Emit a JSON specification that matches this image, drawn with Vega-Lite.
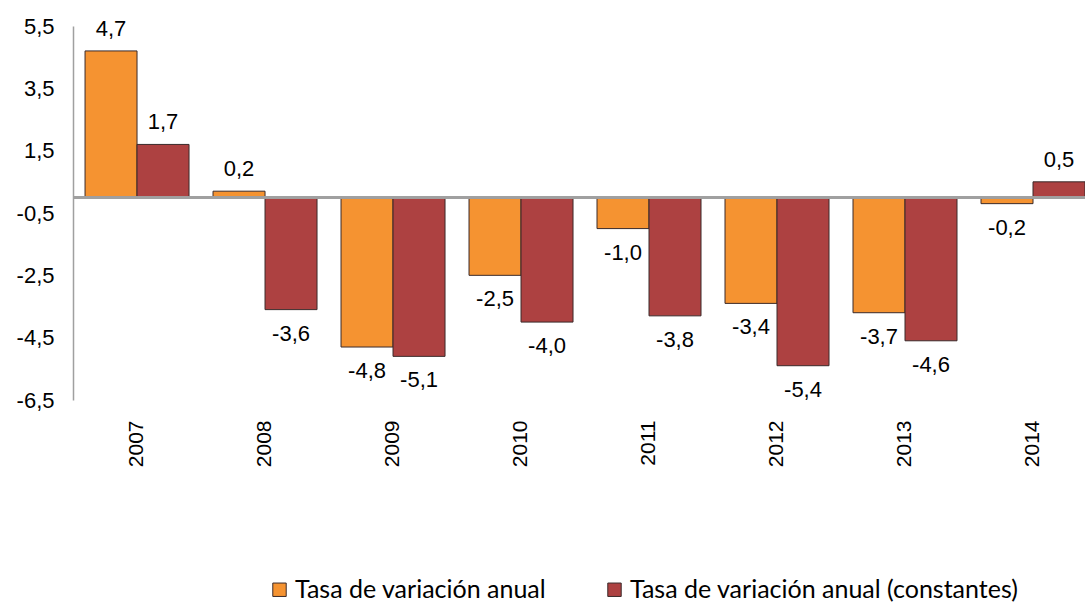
{
  "$schema": "https://vega.github.io/schema/vega-lite/v6.json",
  "autosize": "none",
  "width": 1012,
  "height": 374,
  "padding": {"left": 73, "top": 26, "right": 0, "bottom": 203},
  "background": "white",
  "config": {
    "locale": {"number": {"decimal": ",", "thousands": ".", "grouping": [3], "currency": ["", " €"], "minus": "-"}},
    "view": {"stroke": null},
    "font": "Liberation Sans"
  },
  "data": {
    "values": [
      {"year": "2007", "serie": "Tasa de variación anual", "value": 4.7},
      {"year": "2007", "serie": "Tasa de variación anual (constantes)", "value": 1.7},
      {"year": "2008", "serie": "Tasa de variación anual", "value": 0.2},
      {"year": "2008", "serie": "Tasa de variación anual (constantes)", "value": -3.6},
      {"year": "2009", "serie": "Tasa de variación anual", "value": -4.8},
      {"year": "2009", "serie": "Tasa de variación anual (constantes)", "value": -5.1},
      {"year": "2010", "serie": "Tasa de variación anual", "value": -2.5},
      {"year": "2010", "serie": "Tasa de variación anual (constantes)", "value": -4.0},
      {"year": "2011", "serie": "Tasa de variación anual", "value": -1.0},
      {"year": "2011", "serie": "Tasa de variación anual (constantes)", "value": -3.8},
      {"year": "2012", "serie": "Tasa de variación anual", "value": -3.4},
      {"year": "2012", "serie": "Tasa de variación anual (constantes)", "value": -5.4},
      {"year": "2013", "serie": "Tasa de variación anual", "value": -3.7},
      {"year": "2013", "serie": "Tasa de variación anual (constantes)", "value": -4.6},
      {"year": "2014", "serie": "Tasa de variación anual", "value": -0.2},
      {"year": "2014", "serie": "Tasa de variación anual (constantes)", "value": 0.5}
    ]
  },
  "encoding": {
    "x": {
      "field": "year", "type": "nominal",
      "scale": {"paddingInner": 0.1875, "paddingOuter": 0.047, "align": 1},
      "axis": {"title": null, "labelAngle": -90, "labelFontSize": 21, "labelColor": "#000", "labelPadding": 20, "domain": false, "ticks": false, "labelFont": "Liberation Sans"}
    },
    "xOffset": {"field": "serie", "type": "nominal", "sort": ["Tasa de variación anual", "Tasa de variación anual (constantes)"]},
    "y": {
      "field": "value", "type": "quantitative",
      "scale": {"domain": [-6.5, 5.5], "zero": false, "nice": false},
      "axis": {"title": null, "values": [5.5, 3.5, 1.5, -0.5, -2.5, -4.5, -6.5], "format": ".1f", "labelFontSize": 22, "labelColor": "#000", "labelPadding": 19, "ticks": false, "grid": false, "domainColor": "#a0a0a0", "domainWidth": 1.5, "labelFont": "Liberation Sans"}
    }
  },
  "layer": [
    {
      "mark": {"type": "bar", "stroke": "#3a2a2a", "strokeWidth": 1},
      "encoding": {
        "y": {"field": "value", "type": "quantitative"},
        "y2": {"datum": 0},
        "color": {
          "field": "serie", "type": "nominal",
          "scale": {"domain": ["Tasa de variación anual", "Tasa de variación anual (constantes)"], "range": ["#F59331", "#AD4141"]},
          "legend": {
            "title": null, "orient": "none", "direction": "horizontal",
            "legendX": 194, "legendY": 551,
            "symbolType": "square", "symbolSize": 180, "symbolStrokeColor": "#3a2a2a", "symbolStrokeWidth": 1,
            "labelFontSize": 25, "labelFont": "Lato", "labelColor": "#000", "labelLimit": 500,
            "columnPadding": 55, "labelOffset": 3
          }
        }
      }
    },
    {
      "mark": {"type": "rule", "color": "#a0a0a0", "strokeWidth": 1.5},
      "encoding": {"y": {"datum": 0}, "x": null, "xOffset": null}
    },
    {
      "transform": [{"filter": "datum.value >= 0"}],
      "mark": {"type": "text", "baseline": "bottom", "dy": -10, "fontSize": 22, "color": "#000"},
      "encoding": {"text": {"field": "value", "type": "quantitative", "format": ".1f"}}
    },
    {
      "transform": [{"filter": "datum.value < 0"}],
      "mark": {"type": "text", "baseline": "top", "dy": 14, "fontSize": 22, "color": "#000"},
      "encoding": {"text": {"field": "value", "type": "quantitative", "format": ".1f"}}
    }
  ]
}
